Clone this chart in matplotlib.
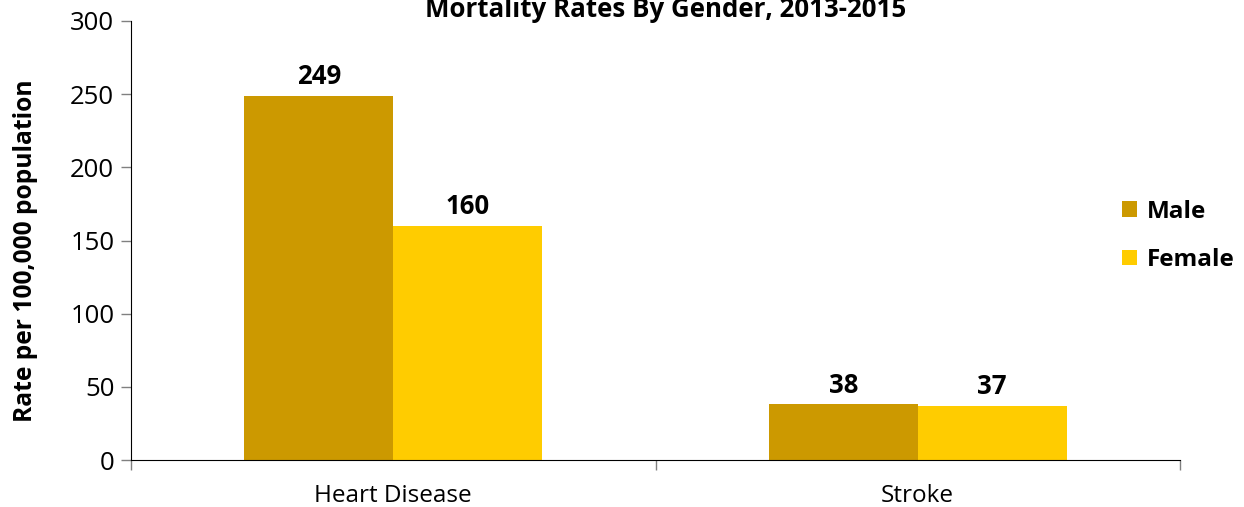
import matplotlib
matplotlib.use("Agg")
import matplotlib.pyplot as plt
import numpy as np

categories = ["Heart Disease", "Stroke"]
series_names = ["Male", "Female"]
male = [249, 38]
female = [160, 37]
colors = ["#CC9900", "#FFCC00"]
yticks = [0, 50, 100, 150, 200, 250, 300]

plt.rcParams['font.family'] = ['Open Sans', 'DejaVu Sans']

fig = plt.figure(figsize=(12.44, 5.07), dpi=100)
ax = fig.add_axes([131/1244, 47/507, 1049/1244, 439/507])

x = np.arange(len(categories))
w = 0.284
b1 = ax.bar(x - w/2, male, w, color=colors[0], label=series_names[0])
b2 = ax.bar(x + w/2, female, w, color=colors[1], label=series_names[1])

for bars, vals in ((b1, male), (b2, female)):
    for r, v in zip(bars, vals):
        ax.annotate(f"{v}", (r.get_x() + r.get_width()/2, v), xytext=(0, 4),
                    textcoords="offset points", ha="center", va="bottom",
                    fontsize=18.5, fontweight="bold")

ax.set_xlim(-0.5, 1.5)
ax.set_ylim(0, 300)
ax.set_yticks(yticks)
ax.tick_params(axis='y', labelsize=18.5, length=7, width=1, color="#808080", pad=5)
ax.set_xticks(x)
ax.set_xticklabels(categories)
ax.tick_params(axis='x', which='major', length=0, labelsize=17.5, pad=17)
ax.set_xticks([-0.5, 0.5, 1.5], minor=True)
ax.tick_params(axis='x', which='minor', length=7, width=1, color="#808080")
for s in ("top", "right"):
    ax.spines[s].set_visible(False)
ax.spines['left'].set_color("black")
ax.spines['bottom'].set_color("black")

ax.set_ylabel("Rate per 100,000 population", fontsize=17.7, fontweight="bold")
ax.yaxis.set_label_coords(38/1244, 1 - 251/507, transform=fig.transFigure)

fig.text(666/1244, 1 - 17/507, "Mortality Rates By Gender, 2013-2015", ha="center", va="baseline",
         fontsize=18.6, fontweight="bold")

ax.legend(loc="center left", bbox_to_anchor=(1100/1244, 1 - 236/507), bbox_transform=fig.transFigure,
          frameon=False, prop={"size": 17.5, "weight": "bold"}, handlelength=0.62, handleheight=0.62,
          handletextpad=0.4, labelspacing=1.0)

fig.savefig("out.png", dpi=100)
